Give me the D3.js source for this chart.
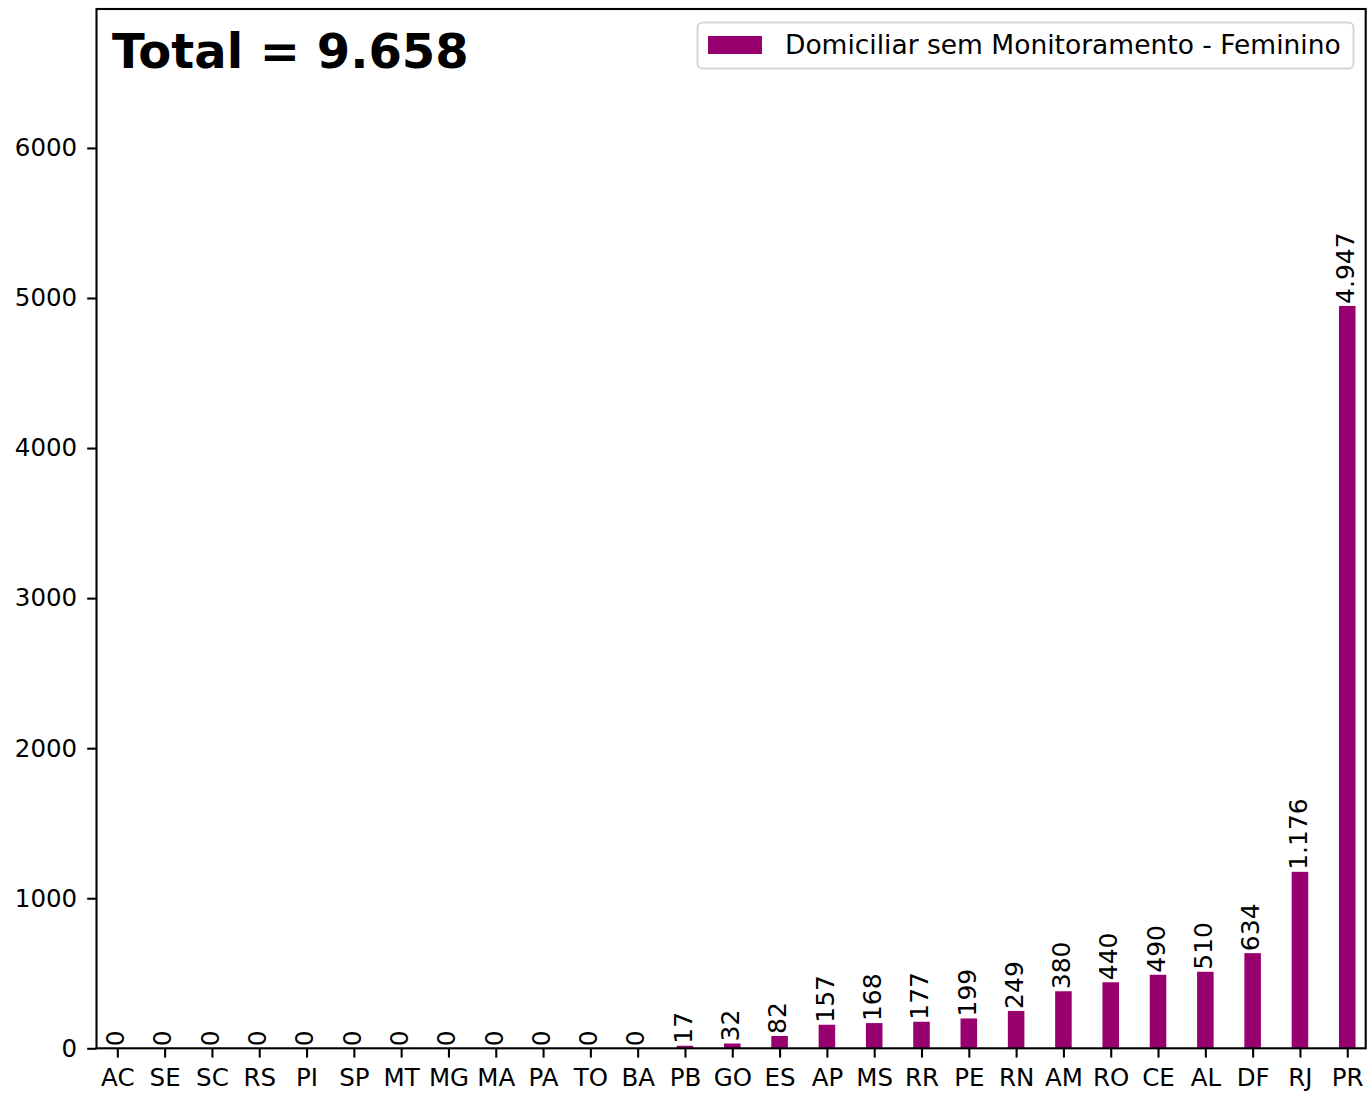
<!DOCTYPE html>
<html><head><meta charset="utf-8">
<script src="https://cdn.jsdelivr.net/npm/d3@7"></script>
<style>body{margin:0;background:#fff;} svg{display:block;} text{font-family:"DejaVu Sans",sans-serif;}</style>
</head><body><svg id="c" width="1372" height="1093"></svg>
<script>
const categories = ["AC","SE","SC","RS","PI","SP","MT","MG","MA","PA","TO","BA","PB","GO","ES","AP","MS","RR","PE","RN","AM","RO","CE","AL","DF","RJ","PR"];
const values = [0,0,0,0,0,0,0,0,0,0,0,0,17,32,82,157,168,177,199,249,380,440,490,510,634,1176,4947];
const yTicks = [0,1000,2000,3000,4000,5000,6000];
const seriesName = "Domiciliar sem Monitoramento - Feminino";
const totalLabel = "Total = 9.658";
const color = "#99006f";

const fmt = v => v >= 1000 ? d3.format(",")(v).replace(/,/g, ".") : String(v);

const svg = d3.select("#c");
const L = 96.5, R = 1365.7, T = 9, B = 1048.3;
const x = d3.scaleLinear().domain([-0.44, 26.39]).range([L, R]);
const y = d3.scaleLinear().domain([0, d3.max(values) * 1.4]).range([B, T]);
const bw = 0.35;

const g = svg.append("g");
g.selectAll("rect.bar").data(values).join("rect")
  .attr("class", "bar")
  .attr("x", (d, i) => x(i - bw / 2))
  .attr("width", (d, i) => x(i + bw / 2) - x(i - bw / 2))
  .attr("y", d => y(d))
  .attr("height", d => B - y(d))
  .attr("fill", color);

g.selectAll("text.val").data(values).join("text")
  .attr("class", "val")
  .attr("transform", (d, i) => `translate(${x(i)},${y(d) - 2}) rotate(-90)`)
  .attr("dy", "0.27em")
  .attr("text-anchor", "start")
  .attr("font-size", 25)
  .attr("fill", "#000")
  .text(d => fmt(d));

// axes
const xAxis = d3.axisBottom(x).tickValues(d3.range(categories.length)).tickFormat(i => categories[i]).tickSize(9.3).tickPadding(11.5);
const yAxis = d3.axisLeft(y).tickValues(yTicks).tickFormat(d => d).tickSize(9.3).tickPadding(10);
const gx = svg.append("g").attr("transform", `translate(0,${B})`).call(xAxis);
const gy = svg.append("g").attr("transform", `translate(${L},0)`).call(yAxis);
[gx, gy].forEach(a => {
  a.select(".domain").remove();
  a.selectAll("text").attr("font-size", 24.5).attr("fill", "#000").attr("font-family", "DejaVu Sans");
  a.selectAll("line").attr("stroke", "#000").attr("stroke-width", 2.1);
});

svg.append("rect").attr("x", L).attr("y", T).attr("width", R - L).attr("height", B - T)
  .attr("fill", "none").attr("stroke", "#000").attr("stroke-width", 2.1);

svg.append("text").attr("x", 112).attr("y", 68).attr("font-size", 48).attr("font-weight", "bold")
  .attr("fill", "#000").text(totalLabel);

// legend
const lg = svg.append("g");
lg.append("rect").attr("x", 697.5).attr("y", 22.5).attr("width", 656).attr("height", 46).attr("rx", 5)
  .attr("fill", "#fff").attr("stroke", "#d6d6d6").attr("stroke-width", 2);
lg.append("rect").attr("x", 708).attr("y", 36).attr("width", 54).attr("height", 18).attr("fill", color);
lg.append("text").attr("x", 785).attr("y", 54).attr("font-size", 26.5).attr("fill", "#000").text(seriesName);
</script></body></html>
